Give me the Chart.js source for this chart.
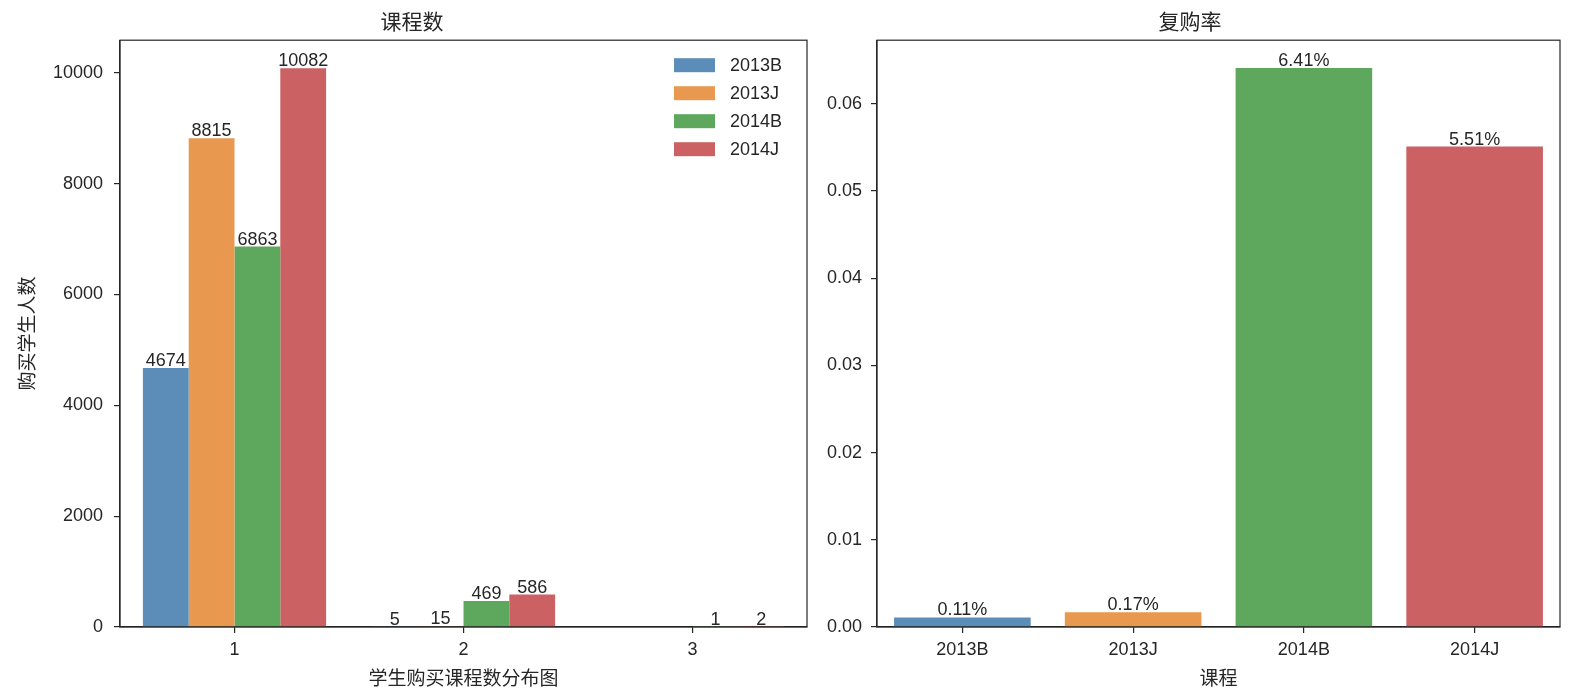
<!DOCTYPE html>
<html>
<head>
<meta charset="utf-8">
<script src="https://cdn.jsdelivr.net/npm/chart.js@4/dist/chart.umd.min.js"></script>
<style>
    html, body { margin: 0; padding: 0; background: #fff; overflow: hidden; }
    .panel { position: absolute; top: 0; height: 696px; }
    #left-panel { left: 0; width: 820px; }
    #right-panel { left: 820px; width: 752px; }
</style>
</head>
<body>
<div class="panel" id="left-panel"><canvas id="count-chart"></canvas></div>
<div class="panel" id="right-panel"><canvas id="rate-chart"></canvas></div>
<script>
const FONT = '"Liberation Sans", "Noto Sans CJK SC", Arial, sans-serif';
const INK = '#262626';

// left: students by number of courses bought
const courseCounts = ['1', '2', '3'];
const semesters = ['2013B', '2013J', '2014B', '2014J'];
const students2013B = [4674, 5, null];
const students2013J = [8815, 15, null];
const students2014B = [6863, 469, 1];
const students2014J = [10082, 586, 2];
const countTicks = [0, 2000, 4000, 6000, 8000, 10000];

// right: repurchase rate by course
const courses = ['2013B', '2013J', '2014B', '2014J'];
const repurchaseRate = [0.0011, 0.0017, 0.0641, 0.0551];
const rateTicks = [0, 0.01, 0.02, 0.03, 0.04, 0.05, 0.06];

const colors = ['#5b8db8', '#e8994f', '#5ea85e', '#cb6163'];

const spinesPlugin = {
    id: 'spines',
    afterDraw(chart) {
        const { ctx, chartArea } = chart;
        ctx.save();
        ctx.strokeStyle = INK;
        ctx.lineWidth = 1.2;
        ctx.strokeRect(chartArea.left, chartArea.top,
            chartArea.right - chartArea.left, chartArea.bottom - chartArea.top);
        ctx.restore();
    }
};

const valueLabelPlugin = {
    id: 'valueLabels',
    afterDatasetsDraw(chart, args, opts) {
        const { ctx } = chart;
        ctx.save();
        ctx.font = '18px ' + FONT;
        ctx.fillStyle = INK;
        ctx.textAlign = 'center';
        ctx.textBaseline = 'alphabetic';
        chart.data.datasets.forEach((ds, di) => {
            chart.getDatasetMeta(di).data.forEach((bar, i) => {
                const v = ds.data[i];
                if (v == null) return;
                ctx.fillText(opts.format(v), bar.x, bar.y - 2);
            });
        });
        ctx.restore();
    }
};

const innerLegendPlugin = {
    id: 'innerLegend',
    afterDraw(chart, args, opts) {
        if (!opts.show) return;
        const { ctx, chartArea } = chart;
        ctx.save();
        ctx.font = '18px ' + FONT;
        ctx.textBaseline = 'middle';
        chart.data.datasets.forEach((ds, i) => {
            const y = chartArea.top + 25 + i * 28;
            const x = chartArea.right - 133;
            ctx.fillStyle = ds.backgroundColor;
            ctx.fillRect(x, y - 7, 41, 14);
            ctx.fillStyle = INK;
            ctx.fillText(ds.label, x + 56, y + 1);
        });
        ctx.restore();
    }
};

function axisStyle() {
    return {
        border: { display: true, color: INK, width: 1.2 },
        grid: { display: true, drawOnChartArea: false, drawTicks: true, tickLength: 6, color: INK, lineWidth: 1.2, offset: false }
    };
}

const titleFont = { family: FONT, size: 21, weight: 'normal' };
const axisTitleFont = { family: FONT, size: 19, weight: 'normal' };
const tickFont = { family: FONT, size: 18 };

new Chart(document.getElementById('count-chart'), {
    type: 'bar',
    data: {
        labels: courseCounts,
        datasets: [students2013B, students2013J, students2014B, students2014J].map((d, i) => ({
            label: semesters[i],
            data: d,
            backgroundColor: colors[i],
            categoryPercentage: 0.8,
            barPercentage: 1.0
        }))
    },
    options: {
        responsive: true,
        maintainAspectRatio: false,
        animation: false,
        layout: { padding: { left: 17, right: 13, top: 0, bottom: 5 } },
        plugins: {
            legend: { display: false },
            tooltip: { enabled: false },
            title: {
                display: true, text: '课程数', color: INK,
                font: titleFont,
                padding: { top: 11, bottom: 4 }
            },
            valueLabels: { format: (v) => String(v) },
            innerLegend: { show: true }
        },
        scales: {
            x: {
                ...axisStyle(),
                ticks: { color: INK, font: tickFont, padding: 6 },
                title: { display: true, text: '学生购买课程数分布图', color: INK, font: axisTitleFont, padding: { top: 0, bottom: 0 } },
                afterFit: (scale) => { scale.height = 64; }
            },
            y: {
                ...axisStyle(),
                min: 0,
                max: 10586,
                afterBuildTicks: (scale) => { scale.ticks = countTicks.map((v) => ({ value: v })); },
                ticks: { color: INK, font: tickFont, padding: 11, callback: (v) => String(v) },
                title: { display: true, text: '购买学生人数', color: INK, font: axisTitleFont, padding: { top: 0, bottom: 0 } },
                afterFit: (scale) => { scale.width = 103; }
            }
        }
    },
    plugins: [spinesPlugin, valueLabelPlugin, innerLegendPlugin]
});

new Chart(document.getElementById('rate-chart'), {
    type: 'bar',
    data: {
        labels: courses,
        datasets: [{
            label: '复购率',
            data: repurchaseRate,
            backgroundColor: colors,
            categoryPercentage: 1.0,
            barPercentage: 0.8
        }]
    },
    options: {
        responsive: true,
        maintainAspectRatio: false,
        animation: false,
        layout: { padding: { left: 0, right: 12, top: 0, bottom: 5 } },
        plugins: {
            legend: { display: false },
            tooltip: { enabled: false },
            title: {
                display: true, text: '复购率', color: INK,
                font: titleFont,
                padding: { top: 11, bottom: 4 }
            },
            valueLabels: { format: (v) => (v * 100).toFixed(2) + '%' },
            innerLegend: { show: false }
        },
        scales: {
            x: {
                ...axisStyle(),
                ticks: { color: INK, font: tickFont, padding: 6 },
                title: { display: true, text: '课程', color: INK, font: axisTitleFont, padding: { top: 0, bottom: 0 } },
                afterFit: (scale) => { scale.height = 64; }
            },
            y: {
                ...axisStyle(),
                min: 0,
                max: 0.0673,
                afterBuildTicks: (scale) => { scale.ticks = rateTicks.map((v) => ({ value: v })); },
                ticks: { color: INK, font: tickFont, padding: 9, callback: (v) => v.toFixed(2) },
                afterFit: (scale) => { scale.width = 57; }
            }
        }
    },
    plugins: [spinesPlugin, valueLabelPlugin, innerLegendPlugin]
});
</script>
</body>
</html>
